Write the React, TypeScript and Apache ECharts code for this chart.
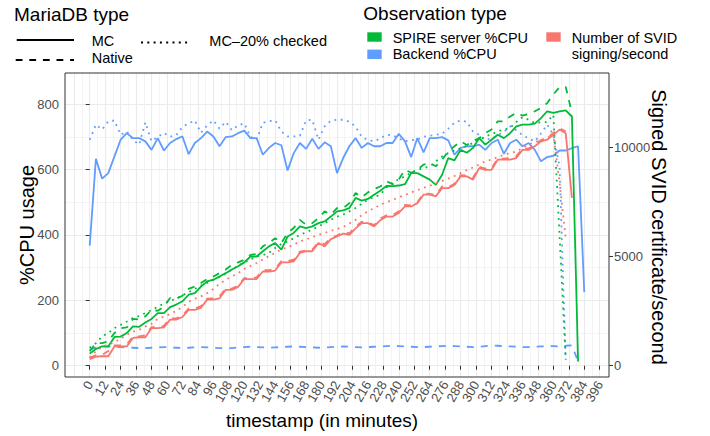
import React, { useEffect, useRef } from "react";
import * as echarts from "echarts";

// x values (minutes)
const minutes = [
  0, 4.8, 9.6, 14.4, 19.2, 24, 28.8, 33.6, 38.4, 43.2,
  48, 52.8, 57.6, 62.4, 67.2, 72, 76.8, 81.6, 86.4, 91.2,
  96, 100.8, 105.6, 110.4, 115.2, 120, 124.8, 129.6, 134.4, 139.2,
  144, 148.8, 153.6, 158.4, 163.2, 168, 172.8, 177.6, 182.4, 187.2,
  192, 196.8, 201.6, 206.4, 211.2, 216, 220.8, 225.6, 230.4, 235.2,
  240, 244.8, 249.6, 254.4, 259.2, 264, 268.8, 273.6, 278.4, 283.2,
  288, 292.8, 297.6, 302.4, 307.2, 312, 316.8, 321.6, 326.4, 331.2,
  336, 340.8, 345.6, 350.4, 355.2, 360, 364.8, 369.6, 374.4, 379.2,
  384,
];

// Backend %CPU
const backendMC = [
  367, 633, 572, 589, 640, 691, 711, 696, 696, 686,
  660, 696, 658, 681, 693, 701, 647, 681, 696, 716,
  701, 671, 699, 701, 711, 719, 696, 696, 645, 666,
  681, 674, 597, 650, 681, 663, 694, 663, 683, 671,
  589, 635, 671, 696, 666, 681, 671, 671, 681, 681,
  709, 686, 638, 696, 652, 696, 696, 699, 689, 645,
  666, 671, 671, 676, 660, 681, 691, 648, 681, 691,
  671, 681, 660, 625, 638, 642, 658, 658, 665, 671,
  225,
];
const backendNative = [
  49, 55, 58, 59, 58, 57, 56, 55, 54, 54,
  55, 56, 57, 56, 55, 54, 55, 56, 57, 56,
  55, 54, 53, 54, 56, 57, 58, 57, 56, 55,
  56, 57, 58, 59, 58, 57, 56, 55, 56, 57,
  58, 59, 58, 57, 56, 57, 58, 59, 60, 61,
  60, 59, 58, 57, 57, 58, 59, 60, 61, 60,
  59, 58, 57, 58, 60, 62, 61, 60, 59, 58,
  57, 57, 58, 59, 60, 60, 59, 61, 62, 13,
];
const backendMC20 = [
  691, 737, 722, 747, 750, 706, 716, 690, 676, 744,
  686, 700, 712, 700, 705, 730, 741, 750, 712, 735,
  750, 725, 746, 720, 735, 741, 700, 690, 743, 748,
  750, 716, 701, 701, 703, 750, 752, 691, 732, 749,
  752, 752, 746, 731, 700, 690, 686, 695, 706, 705,
  695, 686, 690, 691, 700, 703, 706, 709, 725, 743,
  750, 746, 716, 706, 690, 695, 705, 715, 732, 720,
  705, 695, 686, 710, 737, 705, 610, 18,
];

// SPIRE server %CPU
const spireMC = [
  37, 51, 59, 59, 88, 89, 100, 120, 119, 132,
  143, 161, 161, 179, 187, 197, 217, 222, 242, 258,
  263, 273, 283, 294, 304, 316, 334, 334, 350, 365,
  375, 355, 395, 406, 426, 421, 426, 436, 441, 456,
  472, 475, 482, 513, 505, 510, 523, 535, 550, 549,
  551, 555, 589, 589, 579, 569, 553, 584, 635, 628,
  660, 651, 666, 696, 676, 691, 706, 696, 711, 732,
  737, 737, 740, 757, 778, 773, 778, 781, 762, 13,
];
const spireNative = [
  44, 69, 69, 74, 100, 115, 117, 143, 141, 151,
  171, 168, 181, 207, 205, 214, 235, 242, 253, 265,
  273, 283, 294, 309, 316, 324, 339, 342, 365, 375,
  390, 375, 406, 421, 446, 431, 436, 451, 472, 462,
  482, 482, 497, 528, 515, 530, 540, 548, 564, 555,
  570, 599, 590, 599, 615, 620, 610, 630, 655, 671,
  686, 675, 686, 696, 711, 722, 747, 747, 762, 773,
  765, 770, 778, 788, 803, 829, 852, 852, 773,
];
const spireMC20 = [
  55, 69, 90, 100, 115, 125, 135, 146, 152, 161,
  170, 180, 190, 198, 205, 215, 225, 235, 245, 253,
  262, 271, 282, 294, 305, 316, 325, 334, 338, 345,
  360, 372, 380, 390, 400, 408, 416, 426, 436, 446,
  456, 462, 472, 482, 495, 508, 515, 523, 545, 560,
  570, 579, 590, 599, 604, 609, 625, 640, 650, 658,
  665, 672, 681, 690, 701, 708, 716, 722, 727, 745,
  760, 752, 742, 744, 745, 767, 400, 18,
];

// Number of SVID signing / second (right axis)
const svidMC = [
  300, 420, 435, 435, 885, 885, 885, 1275, 1305, 1305,
  1725, 1725, 1755, 2115, 2115, 2235, 2565, 2565, 2655, 3030,
  3030, 3090, 3480, 3480, 3615, 3975, 3975, 3975, 4320, 4320,
  4365, 4740, 4740, 4785, 5175, 5250, 5250, 5625, 5475, 5805,
  5925, 6060, 6000, 6300, 6540, 6540, 6390, 6675, 6840, 6840,
  7005, 7305, 7305, 7455, 7845, 7845, 7770, 8145, 8145, 8295,
  8685, 8685, 8535, 9060, 8985, 8985, 9450, 9450, 9450, 9525,
  9900, 9900, 10065, 10290, 10365, 10590, 10830, 10665, 7695,
];
const svidNative = [
  375, 480, 495, 675, 930, 930, 975, 1350, 1350, 1395,
  1770, 1770, 1830, 2175, 2175, 2295, 2625, 2625, 2730, 3075,
  3090, 3180, 3540, 3540, 3675, 4020, 4020, 4050, 4380, 4380,
  4440, 4800, 4800, 4860, 5235, 5280, 5325, 5670, 5580, 5850,
  5970, 6120, 6075, 6375, 6600, 6570, 6450, 6750, 6900, 6900,
  7080, 7380, 7350, 7500, 7905, 7875, 7830, 8220, 8190, 8340,
  8745, 8730, 8610, 9120, 9045, 9045, 9510, 9495, 9525, 9600,
  9975, 9960, 10140, 10350, 10440, 10680, 10890, 10740,
];
const svidMC20 = [
  375, 675, 855, 975, 1080, 1230, 1425, 1560, 1650, 1800,
  1920, 2145, 2250, 2370, 2520, 2700, 2925, 3075, 3180, 3330,
  3525, 3750, 3945, 4095, 4245, 4440, 4575, 4710, 4875, 5025,
  5175, 5340, 5430, 5550, 5700, 5790, 5895, 6000, 6090, 6180,
  6270, 6360, 6525, 6690, 6900, 7080, 7230, 7380, 7500, 7605,
  7725, 7830, 7950, 8055, 8160, 8250, 8370, 8475, 8580, 8700,
  8835, 8970, 9090, 9225, 9375, 9450, 9570, 9675, 9750, 9825,
  9975, 10140, 10260, 10350, 10440, 10665, 8400, 5850,
];

// tick labels
const xTicks = [
  0, 12, 24, 36, 48, 60, 72, 84, 96, 108, 120, 132, 144, 156, 168, 180, 192,
  204, 216, 228, 240, 252, 264, 276, 288, 300, 312, 324, 336, 348, 360, 372,
  384, 396,
];
const cpuTicks = [0, 200, 400, 600, 800];
const svidTicks = [0, 5000, 10000];

const X_MIN = -19.2;
const X_MAX = 403.2;
const Y_MIN = -34.5;
const Y_MAX = 895;
const SVID_FACTOR = 15;

const GREEN = "#00BA38";
const BLUE = "#619CFF";
const RED = "#F8766D";
const FONT = "Liberation Sans, Arial, Helvetica, sans-serif";

const G = { left: 65, top: 73, width: 544, height: 304 };

const LW = 1.8;
const DASHED = [7, 7];
const DOTTED = [1.8, 4.6];

function pairs(vals: number[]) {
  return vals.map((v, i) => [minutes[i], v]);
}

function makeSeries(name: string, vals: number[], color: string, dash: any, axis: number) {
  return {
    name,
    type: "line",
    xAxisIndex: 0,
    yAxisIndex: axis,
    data: pairs(vals),
    showSymbol: false,
    symbol: "none",
    silent: true,
    lineStyle: { color, width: LW, type: dash },
    z: 3,
  };
}

export default function App() {
  const ref = useRef<HTMLDivElement>(null);

  useEffect(() => {
    document.body.style.margin = "0";
    const chart = echarts.init(ref.current!, null, { renderer: "svg" });

    const yr = Y_MAX - Y_MIN;
    const xr = X_MAX - X_MIN;
    const hGrid = {
      left: G.left,
      width: G.width,
      top: G.top + ((Y_MAX - 800) / yr) * G.height,
      height: (800 / yr) * G.height,
    };
    const vGrid = {
      top: G.top,
      height: G.height,
      left: G.left + ((-12 - X_MIN) / xr) * G.width,
      width: (408 / xr) * G.width,
    };

    const gridLineMajor = { show: true, lineStyle: { color: "#EBEBEB", width: 1.1 } };
    const gridLineMinor = { show: true, lineStyle: { color: "#EBEBEB", width: 0.55 } };
    const hidden = {
      axisLine: { show: false },
      axisTick: { show: false },
      axisLabel: { show: false },
    };

    const tickLabel = {
      color: "#4D4D4D",
      fontSize: 13,
      fontFamily: FONT,
      formatter: (v: number) => String(v),
    };

    const txt = (text: string, x: number, y: number, size: number, extra: any = {}) => ({
      type: "text",
      x,
      y,
      ...extra,
      style: { text, fontSize: size, fontFamily: FONT, fill: "#000", align: extra.align || "left", verticalAlign: "middle" },
    });

    const graphic: any[] = [
      // axis titles
      txt("%CPU usage", 27, 225, 20, { rotation: Math.PI / 2, align: "center" }),
      txt("timestamp (in minutes)", 322, 420, 19, { align: "center" }),
      txt("Signed SVID certificate/second", 659, 227, 20, { rotation: -Math.PI / 2, align: "center" }),
      // MariaDB legend
      txt("MariaDB type", 14, 14.5, 19),
      { type: "line", shape: { x1: 16.7, y1: 40, x2: 74, y2: 40 }, style: { stroke: "#000", lineWidth: 2.2 } },
      txt("MC", 91.7, 41.3, 14.5),
      {
        type: "line",
        shape: { x1: 141, y1: 42.5, x2: 188, y2: 42.5 },
        style: { stroke: "#000", lineWidth: 2.2, lineDash: [2, 4.3] },
      },
      txt("MC–20% checked", 209.3, 41.3, 14.5),
      {
        type: "line",
        shape: { x1: 15.7, y1: 60, x2: 74, y2: 60 },
        style: { stroke: "#000", lineWidth: 2.2, lineDash: [6.8, 6.8] },
      },
      txt("Native", 91.7, 58, 14.5),
      // Observation legend
      txt("Observation type", 363.3, 13, 19),
      { type: "rect", shape: { x: 367.3, y: 32.3, width: 14.4, height: 9.4 }, style: { fill: GREEN } },
      txt("SPIRE server %CPU", 392.7, 37.5, 14.5),
      { type: "rect", shape: { x: 367.3, y: 49.6, width: 14.4, height: 9.4 }, style: { fill: BLUE } },
      txt("Backend %CPU", 392.7, 54.2, 14.5),
      { type: "rect", shape: { x: 546.3, y: 32.3, width: 14.4, height: 9.4 }, style: { fill: RED } },
      txt("Number of SVID", 571.7, 37.5, 14.5),
      txt("signing/second", 571.7, 54.2, 14.5),
    ];

    chart.setOption({
      animation: false,
      backgroundColor: "#fff",
      textStyle: { fontFamily: FONT },
      grid: [
        { left: G.left, top: G.top, width: G.width, height: G.height, show: true, borderColor: "#333", borderWidth: 1, backgroundColor: "transparent", z: 4 },
        { ...hGrid, show: false },
        { ...vGrid, show: false },
      ],
      xAxis: [
        {
          gridIndex: 0,
          type: "value",
          min: X_MIN,
          max: X_MAX,
          axisLine: { show: false },
          axisTick: { show: true, customValues: xTicks, length: 4, lineStyle: { color: "#333" } },
          axisLabel: { ...tickLabel, customValues: xTicks, rotate: 60, margin: 5 },
          splitLine: { show: false },
        },
        { gridIndex: 1, type: "value", min: 0, max: 1, ...hidden, splitLine: { show: false } },
        {
          gridIndex: 2,
          type: "value",
          min: -12,
          max: 396,
          interval: 12,
          ...hidden,
          splitLine: gridLineMajor,
          minorTick: { show: false, splitNumber: 2 },
          minorSplitLine: gridLineMinor,
        },
      ],
      yAxis: [
        {
          gridIndex: 0,
          type: "value",
          position: "left",
          min: Y_MIN,
          max: Y_MAX,
          axisLine: { show: false },
          axisTick: { show: true, customValues: cpuTicks, length: 4, lineStyle: { color: "#333" } },
          axisLabel: { ...tickLabel, customValues: cpuTicks, margin: 6 },
          splitLine: { show: false },
        },
        {
          gridIndex: 0,
          type: "value",
          position: "right",
          min: Y_MIN * SVID_FACTOR,
          max: Y_MAX * SVID_FACTOR,
          axisLine: { show: false },
          axisTick: { show: true, customValues: svidTicks, length: 4, lineStyle: { color: "#333" } },
          axisLabel: { ...tickLabel, customValues: svidTicks, margin: 5 },
          splitLine: { show: false },
        },
        {
          gridIndex: 1,
          type: "value",
          min: 0,
          max: 800,
          interval: 200,
          ...hidden,
          splitLine: gridLineMajor,
          minorTick: { show: false, splitNumber: 2 },
          minorSplitLine: gridLineMinor,
        },
        { gridIndex: 2, type: "value", min: 0, max: 1, ...hidden, splitLine: { show: false } },
      ],
      series: [
        makeSeries("Backend MC", backendMC, BLUE, "solid", 0),
        makeSeries("Backend Native", backendNative, BLUE, DASHED, 0),
        makeSeries("Backend MC-20%", backendMC20, BLUE, DOTTED, 0),
        makeSeries("SPIRE MC", spireMC, GREEN, "solid", 0),
        makeSeries("SPIRE Native", spireNative, GREEN, DASHED, 0),
        makeSeries("SPIRE MC-20%", spireMC20, GREEN, DOTTED, 0),
        makeSeries("SVID MC", svidMC, RED, "solid", 1),
        makeSeries("SVID Native", svidNative, RED, DASHED, 1),
        makeSeries("SVID MC-20%", svidMC20, RED, DOTTED, 1),
      ],
      graphic,
    });

    return () => chart.dispose();
  }, []);

  return <div ref={ref} style={{ width: 710, height: 436 }} />;
}
